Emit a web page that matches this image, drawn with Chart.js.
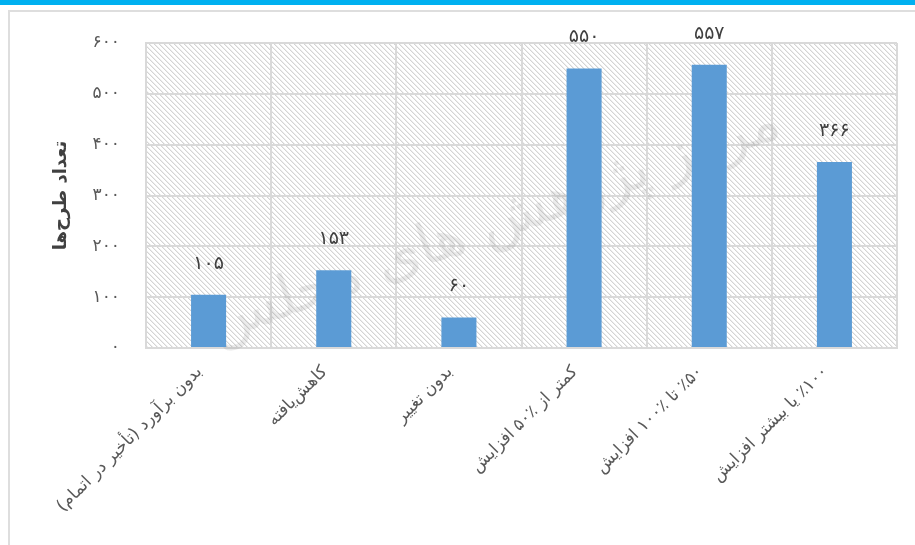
<!DOCTYPE html>
<html>
<head>
<meta charset="utf-8">
<script src="https://cdn.jsdelivr.net/npm/chart.js@4"></script>
<style>
  html, body { margin: 0; padding: 0; background: #fff; }
  canvas { display: block; direction: rtl; }
</style>
</head>
<body>
<canvas id="chart" width="915" height="545"></canvas>
<script>
// data
const categories = [
    'بدون برآورد (تأخیر در اتمام)',
    'کاهش‌یافته',
    'بدون تغییر',
    'کمتر از ٪۵۰ افزایش',
    '٪۵۰ تا ٪۱۰۰ افزایش',
    '٪۱۰۰ یا بیشتر افزایش'
];
const counts = [105, 153, 60, 550, 557, 366];
const yMin = 0, yMax = 600, yStep = 100;
const yTitle = 'تعداد طرح‌ها';
const watermark = 'مرکز پژوهش های مجلس';

const faDigits = n => String(n).replace(/\d/g, d => '۰۱۲۳۴۵۶۷۸۹'[d]);

Chart.defaults.font.family = "'DejaVu Sans', sans-serif";

// diagonal hatch tile for the plot background
const tile = document.createElement('canvas');
tile.width = 5; tile.height = 5;
const tctx = tile.getContext('2d');
tctx.fillStyle = '#fff';
tctx.fillRect(0, 0, 5, 5);
for (let i = 0; i < 5; i++) {
    tctx.fillStyle = '#d4d4d4';
    tctx.fillRect(i, i, 1, 1);
    tctx.fillStyle = '#ededed';
    tctx.fillRect((i + 1) % 5, i, 1, 1);
}

const decor = {
    id: 'decor',
    beforeDraw(chart) {
        const ctx = chart.ctx, a = chart.chartArea;
        ctx.save();
        ctx.fillStyle = '#00b0f0';
        ctx.fillRect(0, 0, chart.width, 5);
        ctx.strokeStyle = '#dedede';
        ctx.lineWidth = 2;
        ctx.strokeRect(9, 11, chart.width + 20, chart.height + 20);
        ctx.fillStyle = ctx.createPattern(tile, 'repeat');
        ctx.fillRect(a.left, a.top, a.right - a.left, a.bottom - a.top);
        ctx.restore();
    },
    beforeDatasetsDraw(chart) {
        const ctx = chart.ctx;
        ctx.save();
        ctx.translate(495, 225);
        ctx.rotate(-20 * Math.PI / 180);
        ctx.font = "80px 'DejaVu Sans'";
        const w = ctx.measureText(watermark).width;
        const size = Math.round(80 * 600 / w);
        ctx.font = size + "px 'DejaVu Sans'";
        ctx.fillStyle = 'rgba(130,130,130,0.16)';
        ctx.textAlign = 'center';
        ctx.textBaseline = 'middle';
        ctx.fillText(watermark, 0, 0);
        ctx.restore();
    },
    afterDatasetsDraw(chart) {
        const ctx = chart.ctx;
        const meta = chart.getDatasetMeta(0);
        ctx.save();
        ctx.font = "19px 'DejaVu Sans'";
        ctx.fillStyle = '#404040';
        ctx.textAlign = 'center';
        ctx.textBaseline = 'middle';
        meta.data.forEach((bar, i) => {
            ctx.fillText(faDigits(counts[i]), bar.x, bar.y - 31);
        });
        ctx.restore();
    }
};

new Chart(document.getElementById('chart').getContext('2d'), {
    type: 'bar',
    data: {
        labels: categories,
        datasets: [{
            data: counts,
            backgroundColor: '#5b9bd5',
            barPercentage: 0.28,
            categoryPercentage: 1
        }]
    },
    options: {
        responsive: false,
        animation: false,
        layout: { padding: { top: 43, right: 18, left: 48, bottom: 0 } },
        scales: {
            x: {
                grid: { color: '#d9d9d9', lineWidth: 2, drawTicks: false },
                border: { color: '#d9d9d9', width: 2 },
                ticks: {
                    color: '#595959',
                    font: { size: 17 },
                    minRotation: 45,
                    maxRotation: 45,
                    padding: 14,
                    labelOffset: -9,
                    autoSkip: false
                },
                afterFit: s => { s.height = 197; }
            },
            y: {
                min: yMin,
                max: yMax,
                grid: { color: '#d9d9d9', lineWidth: 2, drawTicks: false },
                border: { color: '#d9d9d9', width: 2 },
                ticks: {
                    stepSize: yStep,
                    color: '#595959',
                    font: { size: 17 },
                    padding: 26,
                    callback: v => faDigits(v)
                },
                title: {
                    display: true,
                    text: yTitle,
                    color: '#404040',
                    font: { size: 18, weight: 'bold' },
                    padding: { top: 3, bottom: 3 }
                },
                afterFit: s => { s.width = 98; }
            }
        },
        plugins: {
            legend: { display: false },
            tooltip: { enabled: false }
        }
    },
    plugins: [decor]
});
</script>
</body>
</html>
